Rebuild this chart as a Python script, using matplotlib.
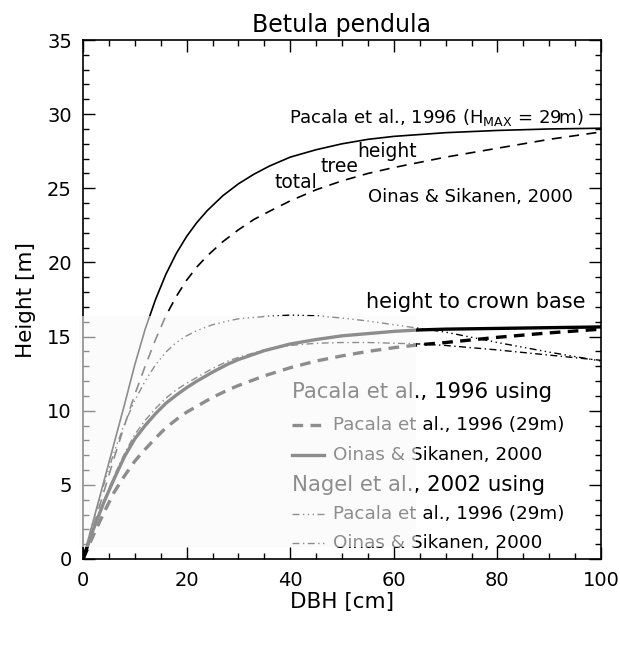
import matplotlib
matplotlib.use("Agg")
import matplotlib.pyplot as plt
from matplotlib.lines import Line2D
from matplotlib.patches import Rectangle
from matplotlib.ticker import MultipleLocator

plt.rcParams['font.family'] = ['DejaVu Sans']
plt.rcParams['mathtext.fontset'] = 'dejavusans'

# ---- data ----
dbh_total = [0, 2, 4, 6, 8, 10, 12, 14, 16, 18, 20, 22, 24, 27, 30, 33, 36, 40, 45, 50, 55,
             60, 70, 80, 90, 100]
pacala_total = [0, 2.6, 5.2, 7.8, 10.4, 13.1, 15.5, 17.5, 19.2, 20.6, 21.75, 22.7, 23.5, 24.5,
                25.3, 25.95, 26.5, 27.1, 27.6, 28.0, 28.3, 28.5, 28.75, 28.9, 29.0, 29.05]
oinas_total = [0, 2.2, 4.5, 6.8, 9.0, 11.1, 13.0, 14.8, 16.4, 17.7, 18.8, 19.7, 20.45, 21.4,
               22.2, 22.9, 23.45, 24.15, 24.9, 25.5, 26.0, 26.4, 27.1, 27.7, 28.3, 28.8]

dbh_cb = [0, 2, 4, 6, 8, 10, 12, 14, 16, 18, 20, 22, 25, 28, 30, 35, 40, 45, 50, 55, 60, 65,
          70, 80, 90, 100]
pacala_cb_pacala = [0, 1.6, 3.1, 4.5, 5.6, 6.6, 7.4, 8.15, 8.85, 9.4, 9.9, 10.3, 10.9, 11.4,
                    11.7, 12.35, 12.9, 13.35, 13.7, 14.0, 14.25, 14.45, 14.6, 14.95, 15.25, 15.5]
pacala_cb_oinas = [0, 2.0, 3.8, 5.4, 6.9, 8.1, 9.0, 9.8, 10.5, 11.05, 11.55, 12.0, 12.6,
                   13.15, 13.45, 14.05, 14.5, 14.8, 15.05, 15.2, 15.35, 15.45, 15.5, 15.55,
                   15.6, 15.65]
nagel_cb_pacala = [0, 2.6, 5.0, 7.2, 9.1, 10.7, 12.0, 13.1, 13.95, 14.6, 15.05, 15.4, 15.8,
                   16.05, 16.2, 16.35, 16.45, 16.4, 16.25, 16.05, 15.8, 15.55, 15.3, 14.6,
                   13.95, 13.35]
nagel_cb_oinas = [0, 2.0, 3.9, 5.6, 7.1, 8.4, 9.35, 10.15, 10.85, 11.4, 11.85, 12.25, 12.85,
                  13.35, 13.6, 14.1, 14.4, 14.55, 14.6, 14.6, 14.55, 14.5, 14.4, 14.1, 13.75,
                  13.4]

x_ticks = [0, 20, 40, 60, 80, 100]
y_ticks = [0, 5, 10, 15, 20, 25, 30, 35]

# ---- figure ----
fig = plt.figure(figsize=(6.2, 6.65), dpi=100)
ax = fig.add_axes([83 / 620, 1 - 559 / 665, (601 - 83) / 620, (559 - 40) / 665])

thin = 1.2
thick = 2.4
ax.plot(dbh_total, pacala_total, color='black', lw=thin, zorder=3)
ax.plot(dbh_total, oinas_total, color='black', lw=thin, dashes=(6, 4.5), zorder=3)

ls_dash = (0, (3.2, 2.2))
ls_ddd = (0, (5, 2.5, 1, 2.5, 1, 2.5, 1, 2.5))
ls_dd = (0, (5, 2.5, 1, 2.5))
ax.plot(dbh_cb, pacala_cb_pacala, color='black', lw=thick, linestyle=ls_dash, zorder=3)
ax.plot(dbh_cb, pacala_cb_oinas, color='black', lw=thick, zorder=3)
ax.plot(dbh_cb, nagel_cb_pacala, color='black', lw=1.0, linestyle=ls_ddd, zorder=3)
ax.plot(dbh_cb, nagel_cb_oinas, color='black', lw=1.0, linestyle=ls_dd, zorder=3)

ax.set_xlim(0, 100)
ax.set_ylim(0, 35)
ax.set_xticks(x_ticks)
ax.set_yticks(y_ticks)
ax.xaxis.set_minor_locator(MultipleLocator(5))
ax.yaxis.set_minor_locator(MultipleLocator(1))
ax.tick_params(which='both', direction='in', top=True, right=True, width=1.0, labelsize=14)
ax.tick_params(which='major', length=8.5)
ax.tick_params(axis='x', which='major', pad=9)
ax.tick_params(axis='y', which='major', pad=8)
ax.tick_params(which='minor', length=4.3)
for s in ax.spines.values():
    s.set_linewidth(1.2)

ax.set_xlabel('DBH [cm]', fontsize=15.5, labelpad=1)
ax.set_ylabel('Height [m]', fontsize=15.5, labelpad=8)
ax.set_title('Betula pendula', fontsize=17, pad=6)

# annotations
ax.text(39.8, 29.8, 'Pacala et al., 1996 (H$_{\\mathrm{MAX}}$ = 29m)', fontsize=13, va='center', zorder=4)
ax.text(55, 24.4, 'Oinas & Sikanen, 2000', fontsize=13, va='center', zorder=4)
ax.text(37, 25.4, 'total', fontsize=13.5, va='center', zorder=4)
ax.text(45.8, 26.5, 'tree', fontsize=13.5, va='center', zorder=4)
ax.text(53, 27.5, 'height', fontsize=13.5, va='center', zorder=4)
ax.text(54.6, 17.3, 'height to crown base', fontsize=15, va='center', zorder=4)

# manual legend
T = ax.transAxes
ax.text(0.403, 0.322, 'Pacala et al., 1996 using', fontsize=15.3, va='center', transform=T, zorder=4)
ax.text(0.403, 0.143, 'Nagel et al., 2002 using', fontsize=15.3, va='center', transform=T, zorder=4)
entries = [
    (0.259, dict(lw=thick, linestyle=ls_dash), 'Pacala et al., 1996 (29m)'),
    (0.201, dict(lw=thick, linestyle='-'), 'Oinas & Sikanen, 2000'),
    (0.087, dict(lw=1.0, linestyle=ls_ddd), 'Pacala et al., 1996 (29m)'),
    (0.031, dict(lw=1.0, linestyle=ls_dd), 'Oinas & Sikanen, 2000'),
]
for yy, style, lab in entries:
    ax.add_line(Line2D([0.403, 0.465], [yy, yy], color='black', transform=T, zorder=4, **style))
    ax.text(0.482, yy, lab, fontsize=13.2, va='center', transform=T, zorder=4)

# faded (scanned) overlay region
ax.add_patch(Rectangle((-0.8, 0.8), 65.1, 15.6, facecolor='#f9f9f9', edgecolor='none',
                       alpha=0.57, zorder=10, clip_on=False))

fig.savefig('out.png', dpi=100)
